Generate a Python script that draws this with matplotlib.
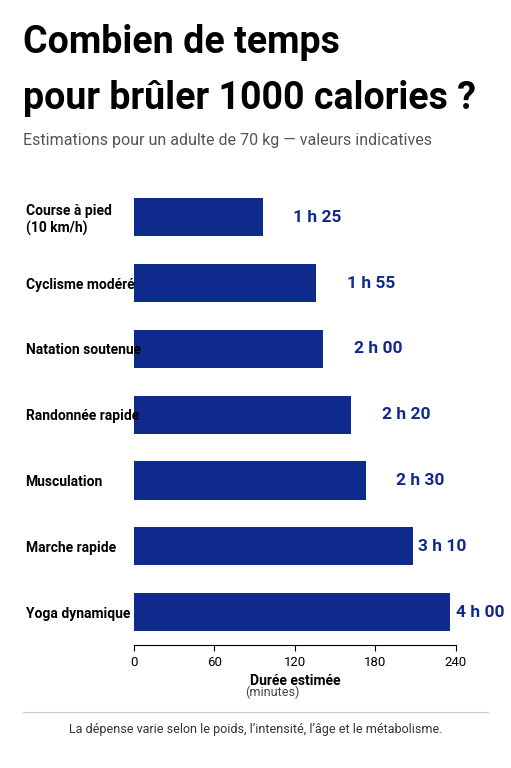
import matplotlib.pyplot as plt
from matplotlib.lines import Line2D

plt.rcParams['font.family'] = ['Roboto', 'DejaVu Sans']

activities = ["Course à pied\n(10 km/h)", "Cyclisme modéré", "Natation soutenue",
              "Randonnée rapide", "Musculation", "Marche rapide", "Yoga dynamique"]
minutes = [96, 136, 141, 162, 173, 208, 236]
labels = ["1 h 25", "1 h 55", "2 h 00", "2 h 20", "2 h 30", "3 h 10", "4 h 00"]
ticks = [0, 60, 120, 180, 240]

blue = "#0e2a8c"
fig = plt.figure(figsize=(5.11, 7.68), dpi=100)
ax = fig.add_axes([0.262, 0.16, 0.63, 0.6])

y = list(range(len(activities)))
ax.barh(y, minutes, height=0.58, color=blue)
for yi, m, lab in zip(y, minutes, labels):
    ax.annotate(lab, (m, yi), xytext=(22 if m < 200 else 4, 0), textcoords="offset points",
                va="center", ha="left", fontsize=12.5, fontweight="bold", color=blue)

ax.set_xlim(0, 240)
ax.set_ylim(6.5, -0.5)
ax.set_xticks(ticks)
ax.tick_params(axis="x", labelsize=9.5, length=4)
ax.set_yticks(y)
ax.set_yticklabels(activities, fontsize=10, fontweight="bold", ha="left")
ax.tick_params(axis="y", length=0, pad=78)
for s in ["top", "right", "left"]:
    ax.spines[s].set_visible(False)
ax.set_xlabel("Durée estimée", fontsize=10, fontweight="bold", labelpad=4)
fig.text(0.532, 0.094, "(minutes)", ha="center", fontsize=9, color="#444444")

fig.text(0.045, 0.945, "Combien de temps", fontsize=27, fontweight="bold", va="center")
fig.text(0.045, 0.872, "pour brûler 1000 calories ?", fontsize=27, fontweight="bold", va="center")
fig.text(0.045, 0.817, "Estimations pour un adulte de 70 kg — valeurs indicatives",
         fontsize=11.5, color="#555555", va="center")
fig.add_artist(Line2D([0.045, 0.955], [0.073, 0.073], color="#cccccc", lw=0.8))
fig.text(0.5, 0.045, "La dépense varie selon le poids, l’intensité, l’âge et le métabolisme.",
         ha="center", fontsize=9, color="#333333")

fig.savefig("out.png", dpi=100)
